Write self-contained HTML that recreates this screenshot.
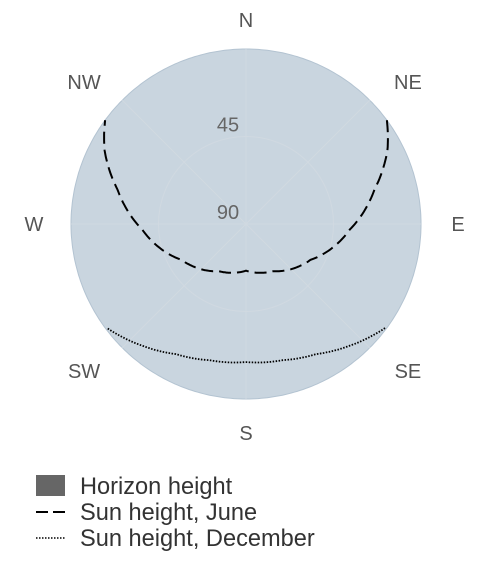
<!DOCTYPE html>
<html><head><meta charset="utf-8"><style>
body{margin:0;background:#fff;width:493px;height:565px;overflow:hidden;font-family:"Liberation Sans",sans-serif}
</style></head><body>
<svg width="493" height="565">
<g id="plot"></g>
<g font-size="23.6" fill="#333">
<rect x="36" y="475" width="29" height="21" fill="#666"/>
<text x="80" y="494">Horizon height</text>
<line x1="36" y1="512" x2="66" y2="512" stroke="#000" stroke-width="2" stroke-dasharray="12,5"/>
<text x="80" y="520">Sun height, June</text>
<line x1="36" y1="538" x2="66" y2="538" stroke="#000" stroke-width="1.5" stroke-dasharray="1.5,1.5"/>
<text x="80" y="546">Sun height, December</text>
</g>
</svg>
<script>
const directions=["N","NE","E","SE","S","SW","W","NW"];
const radialTicks=[45,90];
const horizonAz=[0,45,90,135,180,225,270,315,360];
const horizonEl=[0,0,0,0,0,0,0,0,0];
const juneAz=[53.6,62.5,75,93,119,150,180,210,241,267,285,297.5,306.4];
const juneEl=[0,8,21.6,36.5,52,62,66,62,52,36.5,21.6,8,0];
const decAz=[126.8,140,151.7,165,180,195,208.3,220,233.2];
const decEl=[0.7,8,14,17.5,19,17.5,14,8,0.7];
const NS="http://www.w3.org/2000/svg";
const cx=246,cy=224,R=175;
const g=document.getElementById('plot');
function rOf(el){return R*(90-el)/90;}
function pt(az,el){const a=az*Math.PI/180,r=rOf(el);return [cx+r*Math.sin(a),cy-r*Math.cos(a)];}
function mk(t,attrs){const e=document.createElementNS(NS,t);for(const k in attrs)e.setAttribute(k,attrs[k]);g.appendChild(e);return e;}
function dense(az,el){const out=[];for(let i=0;i<az.length-1;i++){const n=Math.max(1,Math.ceil(Math.abs(az[i+1]-az[i])));for(let k=0;k<n;k++){const f=k/n;out.push([az[i]+(az[i+1]-az[i])*f,el[i]+(el[i+1]-el[i])*f]);}}out.push([az[az.length-1],el[el.length-1]]);return out;}
function pathOf(az,el,close){const d=dense(az,el);return d.map((q,i)=>{const p=pt(q[0],q[1]);return (i?'L':'M')+p[0].toFixed(1)+','+p[1].toFixed(1);}).join('')+(close?'Z':'');}
const hp=mk('path',{d:pathOf(horizonAz,horizonEl,true),fill:'#c9d5df',stroke:'#b3c3d1','stroke-width':1});


directions.forEach((d,i)=>{const p=pt(i*45,0);const l=mk('line',{x1:cx,y1:cy,x2:p[0],y2:p[1],stroke:'#d0d9e1','stroke-width':1});


const a=i*45*Math.PI/180;const c=Math.cos(a);const lx=cx+(i%2?229:212)*Math.sin(a),ly=cy-(i%2?201:204)*c+(c<-0.1?5:0);
const t=mk('text',{x:lx,y:ly+7,'text-anchor':'middle','font-size':20,fill:'#555'});t.textContent=d;

});
radialTicks.forEach(v=>{if(rOf(v)>0){const c=mk('circle',{cx:cx,cy:cy,r:rOf(v),fill:'none',stroke:'#d0d9e1','stroke-width':1});

}
const t=mk('text',{x:cx-18,y:cy-rOf(v)-5,'text-anchor':'middle','font-size':20,fill:'#666'});t.textContent=v;

});
const jn=mk('path',{d:pathOf(juneAz,juneEl,false),fill:'none',stroke:'#000','stroke-width':2,'stroke-dasharray':'12,6'});


const dc=mk('path',{d:pathOf(decAz,decEl,false),fill:'none',stroke:'#000','stroke-width':1.8,'stroke-dasharray':'1.5,1.5'});


</script>
</body></html>
